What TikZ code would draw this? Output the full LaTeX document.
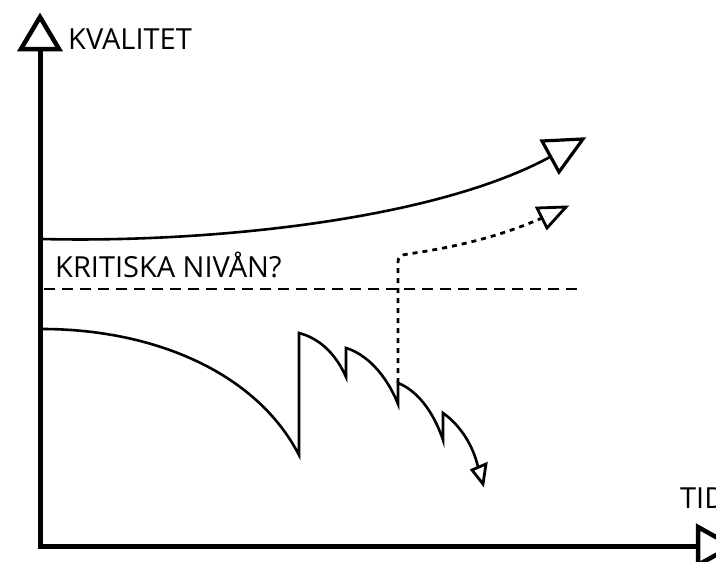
\documentclass[tikz,border=0pt]{standalone}
\usepackage{fontspec}
\setmainfont{Open Sans}
\begin{document}
\begin{tikzpicture}[x=1pt,y=-1pt,
  axis/.style={line width=5pt},
  curve/.style={line width=2.6pt},
  tipbox/.style={line width=3.2pt, line join=miter, fill=white},
  crit/.style={line width=1.1pt, dash pattern=on 11pt off 7pt},
  dotline/.style={line width=2.8pt, dash pattern=on 5pt off 5pt},
  lbl/.style={font=\fontsize{29}{31}\selectfont, inner sep=0pt, anchor=base west}]
\useasboundingbox (0,0) rectangle (716,562);
% axes
\coordinate (O) at (40,546);
\coordinate (Ytop) at (40,49);
\coordinate (Xend) at (698,546);
\draw[axis] (O) -- (Ytop);
\draw[axis] (37.5,546) -- (Xend);
\draw[tipbox, line width=4.5pt] (40,17) -- (21,49) -- (59,49) -- cycle;
\draw[tipbox, line width=4.5pt] (698,527) -- (732,546) -- (698,565) -- cycle;
% labels
\node[lbl] (kval) at (68,49) {KVALITET};
\node[lbl] (tid) at (680,508) {TID};
\node[lbl] (krit) at (55,277) {KRITISKA NIVÅN?};
% critical level
\coordinate (c1) at (44,289);
\coordinate (c2) at (582,289);
\draw[crit] (c1) -- (c2);
% upper curve
\coordinate (u0) at (42,239);
\coordinate (u1) at (550,157);
\draw[curve] (u0) .. controls (200,243) and (430,222) .. (u1);
\draw[tipbox] (583,139) -- (542,141) -- (559,172) -- cycle;
% dotted recovery
\coordinate (d0) at (398,383);
\coordinate (d1) at (542,218);
\draw[dotline] (d0) -- (398,263) .. controls (398,256) and (401,255) .. (408,254) .. controls (470,245) and (510,232) .. (d1);
\draw[tipbox, line width=2.8pt] (566,207) -- (537,208) -- (547,228) -- cycle;
% lower declining curve
\coordinate (l0) at (42,329);
\coordinate (l1) at (478,467);
\draw[curve, line join=miter] (l0) .. controls (150,329) and (255,370) .. (299,455)
  -- (299,333) .. controls (318,338) and (335,352) .. (346,377)
  -- (346,348) .. controls (366,354) and (386,374) .. (398,404)
  -- (398,383) .. controls (416,390) and (433,410) .. (443,440)
  -- (443,413) .. controls (460,425) and (473,445) .. (l1);
\draw[tipbox, line width=2.8pt] (483,484) -- (472,470) -- (486,464) -- cycle;
\end{tikzpicture}
\end{document}
